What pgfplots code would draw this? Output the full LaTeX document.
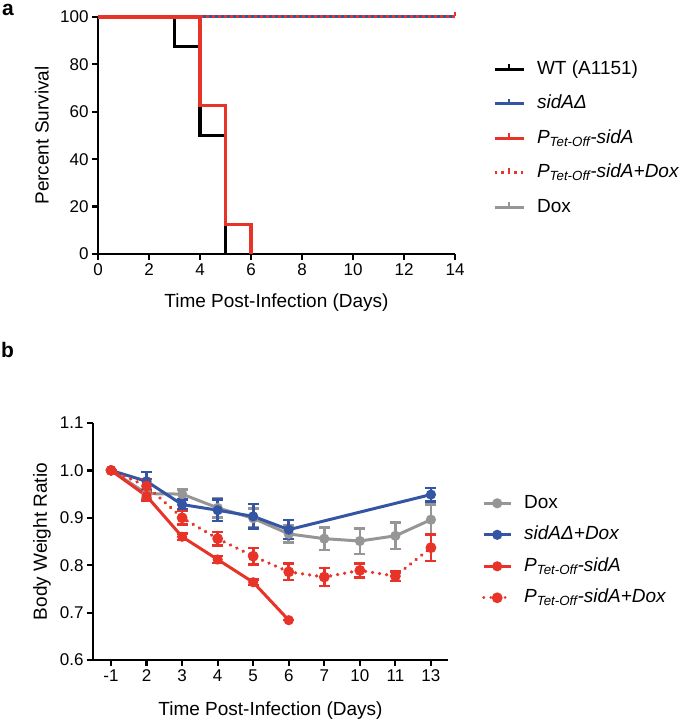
\documentclass[border=0pt]{standalone}
\usepackage{fontspec}
\setmainfont{Liberation Sans}
\usepackage{pgfplots}
\pgfplotsset{compat=1.18}
\definecolor{cred}{RGB}{232,52,40}
\definecolor{cblue}{RGB}{52,84,164}
\definecolor{cgray}{RGB}{150,150,150}
\newcommand{\PT}{\textit{P\textsubscript{Tet-Off}-sidA}}
\pgfplotsset{
  common/.style={
    scale only axis,
    axis x line*=bottom, axis y line*=left,
    axis line style={line width=2.4bp, black},
    tick align=outside,
    major tick length=6bp,
    every tick/.style={line width=2.2bp, black},
    tick label style={font=\fontsize{17bp}{20bp}\selectfont},
    label style={font=\fontsize{19bp}{22bp}\selectfont},
    /pgf/number format/assume math mode=true,
    clip=false,
    legend style={draw=none, fill=none, inner sep=0pt,
      font=\fontsize{19bp}{22bp}\selectfont,
      nodes={inner sep=0pt, text height=14bp, text depth=4bp, anchor=west},
      /tikz/every odd column/.append style={column sep=12bp}},
    legend cell align=left,
  },
}
\begin{document}
\begin{tikzpicture}
\path[use as bounding box] (0,0) rectangle (685bp,721bp);
\node[anchor=base west, inner sep=0pt, font=\bfseries\fontsize{21bp}{21bp}\selectfont] at (2bp,705bp) {a};
\node[anchor=base west, inner sep=0pt, font=\bfseries\fontsize{21bp}{21bp}\selectfont] at (1bp,363bp) {b};
% ---------------- panel a
\begin{axis}[common,
  at={(98bp,467bp)}, anchor=south west,
  width=357bp, height=237bp,
  xmin=0, xmax=14, ymin=0, ymax=100,
  xtick={0,2,...,14}, ytick={0,20,...,100},
  xlabel={Time Post-Infection (Days)},
  ylabel={Percent Survival},
  x label style={at={(axis description cs:0.5,-0.207)}, anchor=center},
  y label style={at={(axis description cs:-0.157,0.5)}, anchor=center},
  legend image code/.code={
    \draw[#1, line width=3bp] (0bp,0bp) -- (29bp,0bp);
    \draw[#1, solid, line width=2.2bp] (14.5bp,0bp) -- (14.5bp,5bp);
  },
  legend style={at={(axis description cs:1.106,0.8186)}, anchor=north west,
    row sep=16.5bp},
]
\addlegendimage{black}
\addlegendentry{WT (A1151)}
\addlegendimage{cblue}
\addlegendentry{\textit{sidAΔ}}
\addlegendimage{cred}
\addlegendentry{\PT}
\addlegendimage{cred, dash pattern=on 2.5bp off 4bp}
\addlegendentry{\PT\textit{+Dox}}
\addlegendimage{cgray}
\addlegendentry{Dox}
% Dox
\addplot[cgray, line width=3bp, forget plot] coordinates {(0,100) (14,100)};
% WT
\addplot[black, line width=3.2bp, const plot, forget plot] coordinates {(0,100) (3,87.5) (4,50) (5,0)};
% sidA delta
\addplot[cblue, line width=3bp, forget plot] coordinates {(0,100) (14,100)};
% PTet + Dox
\addplot[cred, line width=3bp, dash pattern=on 3bp off 3bp, forget plot] coordinates {(0,100) (14,100)};
\addplot[cred, line width=2.4bp, forget plot, mark=|, mark size=2bp, only marks] coordinates {(14,101.2)};
% PTet
\addplot[cred, line width=3.2bp, const plot, forget plot] coordinates {(0,100) (4,62.5) (5,12.5) (6,0)};
\end{axis}
% ---------------- panel b
\begin{axis}[common,
  at={(93bp,61bp)}, anchor=south west,
  width=355bp, height=237bp,
  xmin=-0.507, xmax=9.48, ymin=0.6, ymax=1.1,
  xtick={0,...,9}, xticklabels={-1,2,3,4,5,6,7,10,11,13},
  ytick={0.6,0.7,...,1.1},
  yticklabel style={/pgf/number format/.cd, fixed, fixed zerofill, precision=1},
  xlabel={Time Post-Infection (Days)},
  ylabel={Body Weight Ratio},
  x label style={at={(axis description cs:0.5,-0.215)}, anchor=center},
  y label style={at={(axis description cs:-0.144,0.5)}, anchor=center},
  legend image code/.code={
    \draw[#1, line width=3bp] (0bp,0bp) -- (27bp,0bp);
    \fill[#1, solid] (13.5bp,0bp) circle (3.5bp);
  },
  legend style={at={(axis description cs:1.0958,0.70)}, anchor=north west,
    row sep=13.5bp},
  error bars/y dir=both, error bars/y explicit,
  error bars/error mark options={line width=2.6bp, mark size=5.5bp, rotate=90},
  error bars/error bar style={line width=2.6bp, solid},
]
\addplot[cgray, line width=3bp, mark=*, mark size=3.5bp, mark options={solid}]
  coordinates {
  (0,1.000) +- (0,0)
  (1,0.951) +- (0,0.010)
  (2,0.950) +- (0,0.010)
  (3,0.921) +- (0,0.020)
  (4,0.899) +- (0,0.020)
  (5,0.866) +- (0,0.018)
  (6,0.856) +- (0,0.024)
  (7,0.851) +- (0,0.027)
  (8,0.862) +- (0,0.028)
  (9,0.896) +- (0,0.032)
  };
\addlegendentry{Dox}
\addplot[cblue, line width=3bp, mark=*, mark size=3.5bp, mark options={solid}]
  coordinates {
  (0,1.000) +- (0,0)
  (1,0.977) +- (0,0.020)
  (2,0.928) +- (0,0.010)
  (3,0.916) +- (0,0.023)
  (4,0.903) +- (0,0.026)
  (5,0.875) +- (0,0.020)
  (9,0.949) +- (0,0.014)
  };
\addlegendentry{\textit{sidAΔ+Dox}}
\addplot[cred, line width=3bp, mark=*, mark size=3.5bp, mark options={solid}]
  coordinates {
  (0,1.000) +- (0,0)
  (1,0.946) +- (0,0.010)
  (2,0.860) +- (0,0.007)
  (3,0.812) +- (0,0.007)
  (4,0.764) +- (0,0.006)
  (5,0.684) +- (0,0)
  };
\addlegendentry{\PT}
\addplot[cred, line width=3.6bp, dash pattern=on 0.1bp off 7bp, line cap=round, mark=*, mark size=3.5bp, mark options={solid}]
  coordinates {
  (0,1.000) +- (0,0)
  (1,0.967) +- (0,0.015)
  (2,0.900) +- (0,0.014)
  (3,0.856) +- (0,0.014)
  (4,0.819) +- (0,0.017)
  (5,0.786) +- (0,0.017)
  (6,0.775) +- (0,0.019)
  (7,0.789) +- (0,0.015)
  (8,0.777) +- (0,0.010)
  (9,0.837) +- (0,0.028)
  };
\addlegendentry{\PT\textit{+Dox}}
\end{axis}
\end{tikzpicture}
\end{document}
